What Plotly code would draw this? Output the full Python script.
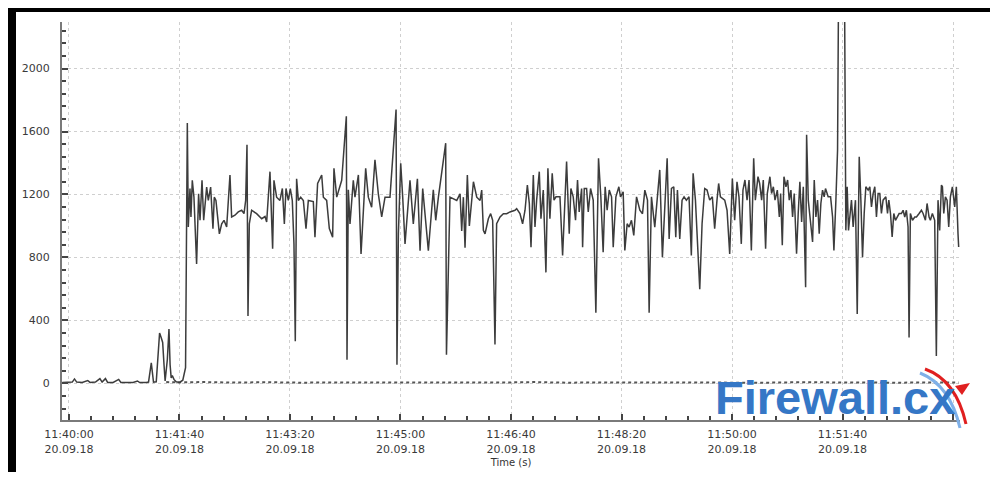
import pandas as pd
import plotly.graph_objects as go

BASE = pd.Timestamp("2018-09-20 11:40:00")

# ---- data: seconds after 11:40:00 and values ----
main_t = [-6, 0, 3, 5, 7, 12, 17, 19, 24, 28, 30, 33, 35, 40, 45, 47, 52, 58, 62, 64, 70,
          72, 74.5, 76.5, 79, 80.5, 82, 83.5, 84.8, 86, 87, 89, 90.5, 91.5, 92.5, 93.5, 95, 97, 100, 103, 105.5,
          107.1, 108.0, 109.5, 110.4, 111.6, 113.1, 115.5, 117.3, 118.6, 120.4, 121.9, 123.4, 124.6, 126.1,
          128.2, 130.3, 131.5, 133.0, 136.1, 138.2, 140.3, 142.7, 145.7, 147.2, 150.2, 153.2, 156.3, 158.4,
          159.9, 161.1, 162.0, 163.2, 165.3, 169.8, 174.4, 177.4, 178.9, 181.9, 184.3, 185.5, 187.9, 190.9,
          193.1, 194.9, 196.4, 198.5, 200.3, 202.1, 203.6, 204.8, 206.0, 207.6, 209.7, 212.1, 214.5, 216.6,
          221.1, 222.6, 225.0, 228.7, 230.2, 233.2, 235.6, 238.6, 239.8, 242.3, 246.8, 251.0, 251.6, 252.8,
          254.3, 257.3, 258.8, 261.9, 264.3, 268.5, 270.9, 273.9, 276.9, 280.0, 283.0, 286.0, 290.5, 296.0,
          296.8, 298.1, 300.2, 302.0, 304.1, 308.6, 311.6, 315.3, 317.7, 320.1, 325.2, 329.7, 331.9, 334.3,
          340.9, 341.6, 344.8, 350.9, 353.9, 355.4, 356.9, 358.4, 360.5, 362.3, 366.0, 369.0, 372.0,
          373.5, 375.0, 376.5, 379.5, 381.6, 383.4, 385.5, 387.0, 390.1, 393.1, 396.1, 399.1, 403.6, 405.1,
          408.1, 410.5, 412.7, 414.8, 416.6, 418.1, 420.2, 421.7, 423.2, 425.6, 427.1, 429.2, 431.6, 433.4,
          435.2, 437.3, 438.9, 440.7, 442.5, 444.3, 446.7, 450.3, 452.7, 454.2, 456.3, 458.4, 460.2, 461.7,
          463.9, 464.8, 466.3, 468.4, 469.9, 472.0, 474.4, 476.8, 479.2, 481.3, 483.4, 485.2, 487.0, 488.9,
          491.0, 492.5, 494.9, 497.6, 499.1, 501.5, 503.0, 505.1, 506.9, 509.0, 511.1, 513.6, 516.6, 519.0,
          521.1, 523.5, 525.0, 527.1, 530.1, 532.2, 534.6, 537.0, 539.2, 541.3, 543.1, 545.2, 547.3, 549.1,
          550.6, 552.7, 554.8, 556.6, 558.7, 561.1, 563.2, 564.8, 566.9, 569.3, 570.8, 572.9, 575.3, 577.4,
          579.8, 582.2, 584.3, 586.4, 587.9, 589.5, 591.3, 593.4, 595.5, 597.9, 600.3, 602.4, 604.5, 606.3,
          608.4, 609.9, 611.7, 613.6, 615.4, 617.5, 619.6, 621.1, 623.5, 625.0,
          626.8, 628.3, 630.4, 631.9, 634.3, 635.8, 637.4, 638.9, 641.0, 642.8, 644.0, 645.5, 647.0, 648.8,
          650.3, 651.8, 653.3, 654.8, 656.3, 658.4, 659.9, 661.4, 663.0, 664.5, 666.6, 667.5, 669.0, 671.1,
          672.9, 674.4, 675.9, 677.4, 678.9, 680.4, 681.9, 683.4, 684.6, 687.0, 689.2, 691.0, 692.2, 694.0,
          695.5, 696.4, 698.0, 700.0, 701.8, 703.0, 704.2, 705.4, 706.6, 708.1, 709.6, 711.7, 713.3, 715.1,
          716.6, 718.1, 719.6, 721.1, 723.2, 724.7, 726.2, 727.7, 729.2, 730.7, 732.2, 733.7, 735.2, 736.7,
          739.2, 740.7, 741.9, 743.4, 744.9, 746.4, 747.9, 749.4, 751.2, 753.3, 754.8, 756.3, 757.8, 759.3,
          760.2, 761.4, 763.3, 765.4, 766.9, 769.3, 771.4, 772.9, 775.0, 776.5, 778.3, 779.5, 781.3, 783.4,
          784.9, 786.4, 787.9, 789.5, 790.4, 791.6, 793.1, 794.6, 796.1, 797.6, 799.4, 801.5, 803.0, 804.5,
          805.1]
main_v = [5, 5, 8, 28, 8, 6, 18, 6, 8, 30, 8, 30, 6, 6, 25, 6, 4, 5, 15, 5, 5,
          8, 130, 8, 10, 200, 320, 290, 260, 120, 15, 150, 345, 120, 35, 50, 25, 10, 6, 20, 100,
          1654, 993, 1238, 1057, 1290, 1183, 758, 1204, 1036, 1290, 1036, 1183, 1247, 1162,
          1247, 983, 1183, 1162, 950, 1013, 1036, 993, 1324, 1057, 1068, 1089, 1100, 1078,
          1162, 1516, 428, 1013, 1100, 1078, 1046, 1060, 1025, 1345, 855, 1290, 1183, 1162,
          1238, 1013, 1238, 1162, 1238, 1162, 886, 268, 1300, 1162, 1183, 1162, 983, 1162,
          1155, 929, 1270, 1324, 1183, 1162, 983, 929, 1366, 1183, 1290, 1697, 150, 1230,
          1013, 1290, 1183, 1324, 822, 1366, 1183, 1119, 1420, 1200, 1057, 1183, 1183, 1740,
          118, 950, 1398, 1183, 886, 1290, 1013, 1300, 843, 1238, 843, 1230, 1036, 1183,
          1526, 182, 1183, 1162, 1204, 968, 1183, 861, 1324, 1000, 1281, 1183, 1162,
          1228, 972, 950, 1046, 1078, 1036, 247, 1014, 1057, 1078, 1078, 1089, 1100, 1110,
          1078, 1014, 1100, 1260, 1142, 865, 1324, 993, 1164, 1345, 1046, 1228, 705, 1366,
          1046, 1334, 1164, 1185, 1185, 1185, 812, 1409, 950, 1238, 1185, 1036, 1292, 1089,
          1238, 865, 1238, 1238, 1089, 1238, 1164, 449, 1430, 1185, 833, 1249, 1100, 1228,
          1185, 865, 1185, 1249, 1185, 1217, 844, 1014, 993, 1036, 940, 1185, 1100, 1078,
          1228, 1164, 449, 1185, 993, 1164, 1356, 801, 1164, 1430, 918, 1238, 1249, 929,
          1228, 918, 1164, 1185, 1164, 1185, 812, 1334, 1164, 780, 598, 1014, 1238, 1228,
          1164, 1185, 982, 1164, 1270, 1185, 1174, 1164, 1100, 822, 1302, 1036, 1281, 1185,
          886, 1228, 1292, 1164, 1292, 844, 1430, 1164, 1313, 1270,
          1164, 1292, 855, 1206, 1313, 1206, 1249, 1164, 1228, 1057, 1206, 877, 1313, 1249,
          1292, 1164, 1228, 1057, 1206, 823, 1079, 1281, 1025, 1249, 611, 1579, 1164, 1036,
          898, 1292, 1057, 1164, 951, 1143, 1228, 1185, 1238, 1185, 1185, 1057, 845, 1164,
          1483, 2500, 2900, 2800, 2500, 972, 1249, 972, 1079, 1164, 994, 1164, 440, 1440,
          1164, 802, 1079, 1249, 1228, 1249, 1121, 1206, 1249, 1057, 1206, 1206, 1079, 1164,
          1185, 1079, 1164, 1079, 930, 1079, 1036, 1057, 1079, 1079, 1100, 1057, 1100, 994,
          291, 1079, 1036, 1057, 1057, 1079, 1100, 1079, 1036, 1143, 1057, 1036, 1079, 1036,
          174, 1164, 972, 1260, 1249, 1079, 1185, 1164, 994, 1185, 1249, 1121, 1249, 951,
          866]

base_t = [88, 100, 120, 150, 180, 210, 240, 270, 300, 330, 360, 390, 420, 450, 480, 510, 540,
          570, 600, 630, 660, 690, 720, 750, 780, 805]
base_v = [8, 6, 8, 5, 7, 4, 6, 5, 7, 4, 6, 5, 8, 4, 6, 5, 7, 5, 6, 4, 7, 5, 6, 4, 6, 5]

# major x ticks (seconds after 11:40:00); the last one carries no label in the source
x_tick_s = [0, 100, 200, 300, 400, 500, 600, 700, 800]
x_tick_labelled = [True, True, True, True, True, True, True, True, False]
x_tick_format = "%H:%M:%S<br>%d.%m.%y"
x_title = "Time (s)"
y_tick_step = 400
y_range = [-233, 2296]
x_range_s = [-6.3, 806.3]
logo_text = "Firewall.cx"

main_x = BASE + pd.to_timedelta(main_t, unit="s")
base_x = BASE + pd.to_timedelta(base_t, unit="s")
tick_x = BASE + pd.to_timedelta(x_tick_s, unit="s")
tick_text = [t.strftime(x_tick_format) if lab else "" for t, lab in zip(tick_x, x_tick_labelled)]

fig = go.Figure()
fig.add_trace(go.Scatter(x=base_x, y=base_v, mode="lines",
                         line=dict(color="#555555", width=2, dash="dot"),
                         hoverinfo="skip", showlegend=False))
fig.add_trace(go.Scatter(x=main_x, y=main_v, mode="lines",
                         line=dict(color="#3c3c3c", width=1.5),
                         showlegend=False))

# the page body has an 8px margin: figure is placed at page (8, 8)
OFF = 8
W, H = 998 - OFF, 480 - 2 * OFF
PL, PR, PT, PB = 62, 960, 22, 420           # plot area in page pixels
L, R, T, B = PL - OFF, W - (PR - OFF), PT - OFF, H - (PB - OFF)
PW, PH = W - L - R, H - T - B


def px(x):
    return (x - PL) / PW


def py(y):
    return (PB - y) / PH


tick_font = dict(family="DejaVu Sans", size=11, color="#3a3a3a")
fig.update_layout(
    width=W, height=H,
    margin=dict(l=L, r=R, t=T, b=B, autoexpand=False),
    paper_bgcolor="white", plot_bgcolor="white",
    xaxis=dict(
        type="date", automargin=False,
        range=[BASE + pd.Timedelta(seconds=x_range_s[0]), BASE + pd.Timedelta(seconds=x_range_s[1])],
        tickmode="array", tickvals=list(tick_x), ticktext=tick_text,
        ticks="inside", ticklen=6, tickcolor="#444", tickwidth=1.5,
        minor=dict(dtick=20000, tick0=BASE, ticks="inside", ticklen=4, tickcolor="#444", showgrid=False),
        showline=True, linecolor="#7a7a7a", linewidth=2,
        showgrid=True, gridcolor="#cfcfcf", griddash="dot", gridwidth=1,
        zeroline=False, tickfont=tick_font, ticklabelstandoff=3,
        title=dict(text=x_title, font=dict(family="DejaVu Sans", size=10, color="#333333"), standoff=4),
    ),
    yaxis=dict(
        range=y_range, tick0=0, dtick=y_tick_step, automargin=False,
        ticks="inside", ticklen=6, tickcolor="#444", tickwidth=1.5,
        minor=dict(dtick=y_tick_step / 5, ticks="inside", ticklen=4, tickcolor="#444", showgrid=False),
        showline=True, linecolor="#7a7a7a", linewidth=2,
        showgrid=True, gridcolor="#cfcfcf", griddash="dot", gridwidth=1,
        zeroline=False, tickfont=tick_font, ticklabelstandoff=8,
    ),
)

# black frame (page pixels)
frame = [(8, 3, 998, 12), (8, 3, 16, 480), (8, 476, 998, 480)]
for x0, y0, x1, y1 in frame:
    fig.add_shape(type="rect", xref="paper", yref="paper",
                  x0=px(x0), x1=px(x1), y0=py(y1), y1=py(y0),
                  fillcolor="black", line=dict(width=0), layer="above")

# logo
fig.add_annotation(text=logo_text, xref="paper", yref="paper",
                   x=px(835), y=py(397), xanchor="center", yanchor="middle",
                   showarrow=False,
                   font=dict(family="Liberation Sans", size=47, color="#3577c6", weight="bold"))


def qpath(p0, c, p1):
    return (f"M {px(p0[0])},{py(p0[1])} Q {px(c[0])},{py(c[1])} {px(p1[0])},{py(p1[1])}")


fig.add_shape(type="path", xref="paper", yref="paper",
              path=qpath((920, 373), (950, 385), (960, 428)),
              line=dict(color="#7fb0e8", width=3))
fig.add_shape(type="path", xref="paper", yref="paper",
              path=qpath((925, 369), (956, 380), (966, 424)),
              line=dict(color="#e02020", width=3))
fig.add_shape(type="path", xref="paper", yref="paper",
              path=f"M {px(955)},{py(386)} L {px(970)},{py(383)} L {px(962)},{py(395)} Z",
              fillcolor="#e02020", line=dict(width=0))

fig.write_html("out.html")
